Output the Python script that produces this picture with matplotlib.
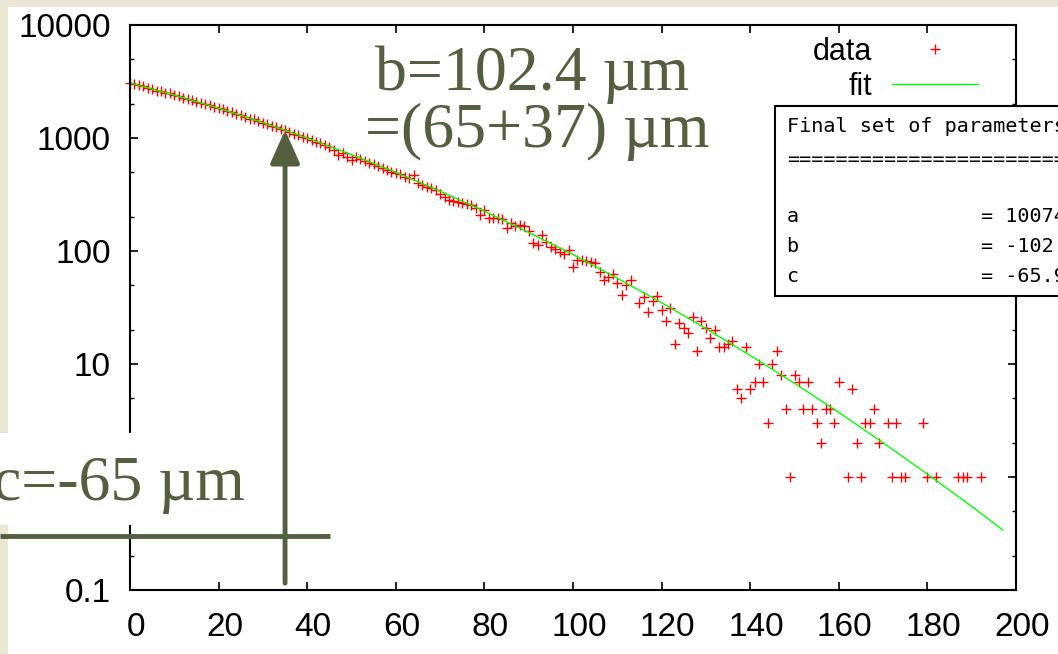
import numpy as np
import matplotlib
matplotlib.use("Agg")
import matplotlib.pyplot as plt
from matplotlib.patches import Rectangle
from matplotlib.lines import Line2D
from matplotlib.ticker import LogLocator, NullFormatter
import matplotlib.transforms as mtransforms

# ================================
# DATA
# ================================

# counts per position, x = 0 .. 105
dense_counts = [
    3050, 2990, 2950, 2870, 2760, 2740, 2630, 2600, 2510, 2480,
    2390, 2350, 2250, 2230, 2180, 2090, 2060, 1980, 1950, 1870,
    1840, 1790, 1720, 1700, 1620, 1600, 1540, 1480, 1460, 1400,
    1360, 1330, 1270, 1240, 1200, 1180, 1140, 1090, 1060, 1030,
    998, 960, 930, 900, 870, 830, 790, 708, 736, 679,
    638, 679, 650, 620, 600, 590, 570, 545, 521, 505,
    490, 480, 455, 440, 471, 400, 385, 370, 360, 345,
    320, 300, 283, 275, 270, 266, 262, 255, 240, 208,
    231, 196, 196, 196, 192, 160, 177, 166, 170, 166,
    150, 117, 113, 139, 120, 108, 104, 98, 95, 102,
    72, 83, 83, 82, 80, 78,
]
dense_x = list(range(len(dense_counts)))

# sparse tail, x >= 106 (empty bins not shown on log axis)
tail_x = [106, 107, 108, 109, 110, 111, 112, 113, 115, 116, 117, 118, 119, 120,
          121, 122, 123, 124, 125, 126, 127, 128, 129, 130, 131, 132, 133, 134,
          135, 136, 137, 138, 139, 140, 141, 142, 143, 144, 145, 146, 147, 148,
          149, 150, 151, 152, 153, 154, 155, 156, 157, 158, 159, 160, 162, 163,
          164, 165, 166, 167, 168, 169, 171, 172, 173, 174, 175, 179, 180, 182,
          187, 188, 189, 192]
tail_counts = [65, 55, 59, 63, 52, 41, 50, 55, 35, 39, 29, 36, 40, 30,
               24, 31, 15, 23, 21, 19, 26, 13, 24, 21, 17, 20, 14, 14,
               15, 16, 6, 5, 14, 6, 7, 10, 7, 3, 10, 13, 8, 4,
               1, 8, 7, 4, 7, 4, 3, 2, 4, 4, 3, 7, 1, 6,
               2, 1, 3, 3, 4, 2, 3, 1, 3, 1, 1, 3, 1, 1,
               1, 1, 1, 1]

# fit curve
fit_x = [0, 10, 20, 30, 40, 50, 60, 70, 80, 90, 100, 110, 120, 130, 140,
         150, 160, 170, 180, 190, 197]
fit_y = [3070, 2400, 1835, 1370, 1000, 712, 497, 338, 225, 146, 93, 57.4,
         34.9, 20.6, 11.9, 6.75, 3.73, 2.01, 1.06, 0.55, 0.34]

x_ticks = [0, 20, 40, 60, 80, 100, 120, 140, 160, 180, 200]
y_ticks = [0.1, 1, 10, 100, 1000, 10000]
# the "1" label sits under the c=-65 box in the original
y_tick_labels = ["0.1", "", "10", "100", "1000", "10000"]

param_lines = ["Final set of parameters",
               "=======================",
               "a               = 10074.",
               "b               = -102.4",
               "c               = -65.93"]

# ================================
# FIGURE
# ================================
W, H = 1058, 654
bg = "#ece7d5"
ink = "#535f3f"

fig = plt.figure(figsize=(W / 100, H / 100), dpi=100, facecolor=bg)

# white slide panel
fig.add_artist(Rectangle((8 / W, 0), 1, 1 - 7 / H, transform=fig.transFigure,
                         facecolor="white", edgecolor="none", zorder=-10))

ax = fig.add_axes([130 / W, 1 - 590 / H, (1016 - 130) / W, (590 - 25) / H])
ax.set_facecolor("white")

x_data = dense_x + tail_x
y_data = dense_counts + tail_counts

ax.plot(x_data, y_data, linestyle="none", marker="+", markersize=6.5,
        markeredgewidth=1.0, color="#ff0000", clip_on=False, label="data")
ax.plot(fit_x, fit_y, color="#00ff00", linewidth=1.0, label="fit")

ax.set_yscale("log")
ax.set_xlim(0, 200)
ax.set_ylim(0.1, 10000)
ax.set_xticks(x_ticks)
ax.set_yticks(y_ticks)
ax.set_yticklabels(y_tick_labels)
ax.yaxis.set_minor_locator(LogLocator(base=10, subs=(2, 5)))
ax.yaxis.set_minor_formatter(NullFormatter())

for s in ax.spines.values():
    s.set_linewidth(1.5)
ax.tick_params(which="major", direction="in", length=6, width=1.2,
               top=True, right=True, labelsize=24)
ax.tick_params(which="minor", direction="in", length=3, width=1.0,
               top=True, right=True)
ax.tick_params(axis="y", pad=14)
ax.tick_params(axis="x", pad=16)
for lab in ax.get_xticklabels() + ax.get_yticklabels():
    lab.set_fontfamily("Liberation Sans")
offset = mtransforms.ScaledTranslation(6 / 100, 0, fig.dpi_scale_trans)
for lab in ax.get_xticklabels():
    lab.set_transform(lab.get_transform() + offset)

leg = ax.legend(loc="upper right", bbox_to_anchor=(978 / W, 1 - 37 / H),
                bbox_transform=fig.transFigure, markerfirst=False,
                frameon=False, borderpad=0, borderaxespad=0,
                handlelength=2.8, handletextpad=0.65, labelspacing=0.15,
                prop={"family": "Liberation Sans", "size": 22})
for t in leg.get_texts():
    t.set_ha("right")

# fit parameter box (runs off the right edge, as in the original)
fig.add_artist(Rectangle((775 / W, 1 - 296 / H), 0.5, 190 / H,
                         transform=fig.transFigure, facecolor="white",
                         edgecolor="black", linewidth=1.5, zorder=5))
for txt, yp in zip(param_lines, [127, 159, 217, 246, 276]):
    fig.text(787 / W, 1 - yp / H, txt, family="DejaVu Sans Mono", size=14.5,
             va="center", ha="left", zorder=6)

# annotations
fig.text(532 / W, 1 - 90 / H, "b=102.4 µm", family="Liberation Serif",
         size=46, color=ink, ha="center", va="baseline", zorder=6)
fig.text(537 / W, 1 - 147 / H, "=(65+37) µm", family="Liberation Serif",
         size=46, color=ink, ha="center", va="baseline", zorder=6)

fig.add_artist(Rectangle((0, 1 - 525 / H), 255 / W, 92 / H,
                         transform=fig.transFigure, facecolor="white",
                         edgecolor="none", zorder=4))
fig.text(245 / W, 1 - 500 / H, "c=-65 µm", family="Liberation Serif",
         size=46, color=ink, ha="right", va="baseline", zorder=6)

fig.add_artist(Line2D([0, 330 / W], [1 - 536 / H, 1 - 536 / H],
                      transform=fig.transFigure, color=ink, linewidth=3.5,
                      solid_capstyle="butt", zorder=6))

ax.annotate("", xy=(35, 1178), xytext=(35, 0.115),
            arrowprops=dict(arrowstyle="-|>,head_length=0.45,head_width=0.2",
                            mutation_scale=45, color=ink, lw=3.5,
                            shrinkA=0, shrinkB=0),
            annotation_clip=False, zorder=6)

fig.savefig("out.png", dpi=100, facecolor=bg)
